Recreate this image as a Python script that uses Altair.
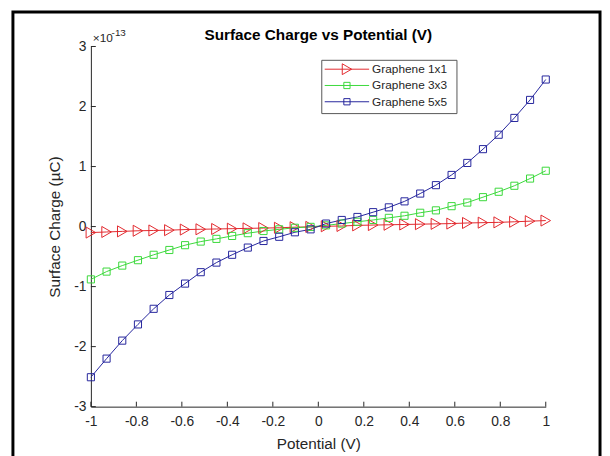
import altair as alt
import pandas as pd

# ---------------- data (values in units of 1e-13) ----------------
potential = [-1.0, -0.931, -0.862, -0.793, -0.724, -0.655, -0.586, -0.517, -0.448, -0.379,
             -0.310, -0.241, -0.172, -0.103, -0.034, 0.034, 0.103, 0.172, 0.241, 0.310,
             0.379, 0.448, 0.517, 0.586, 0.655, 0.724, 0.793, 0.862, 0.931, 1.0]
graphene_1x1 = [-0.10, -0.09, -0.08, -0.07, -0.065, -0.06, -0.05, -0.045, -0.04, -0.035,
                -0.03, -0.025, -0.02, -0.01, -0.005, 0.005, 0.01, 0.02, 0.025, 0.03,
                0.035, 0.04, 0.045, 0.05, 0.06, 0.065, 0.07, 0.08, 0.09, 0.10]
graphene_3x3 = [-0.88, -0.75, -0.65, -0.56, -0.47, -0.39, -0.31, -0.25, -0.205, -0.156,
                -0.11, -0.074, -0.046, -0.02, -0.005, 0.02, 0.05, 0.08, 0.11, 0.145,
                0.18, 0.23, 0.27, 0.34, 0.40, 0.49, 0.58, 0.68, 0.80, 0.93]
graphene_5x5 = [-2.51, -2.20, -1.90, -1.63, -1.37, -1.14, -0.95, -0.76, -0.60, -0.47,
                -0.35, -0.24, -0.17, -0.095, -0.046, 0.05, 0.11, 0.16, 0.24, 0.32,
                0.42, 0.55, 0.69, 0.86, 1.06, 1.29, 1.53, 1.81, 2.11, 2.45]
series_names = ["Graphene 1x1", "Graphene 3x3", "Graphene 5x5"]
series_colors = ["#e2282d", "#3ad83a", "#25259c"]
series_shapes = ["triangle-right", "square", "square"]
x_ticks = [-1, -0.8, -0.6, -0.4, -0.2, 0, 0.2, 0.4, 0.6, 0.8, 1]
y_ticks = [-3, -2, -1, 0, 1, 2, 3]
chart_title = "Surface Charge vs Potential (V)"
x_title = "Potential (V)"
y_title = "Surface Charge (µC)"
exp_base = "×10"
exp_power = "-13"

# ---------------- layout ----------------
W, H = 461, 365
FONT = "Liberation Sans"
AX = "#262626"

rows = []
for name, vals in zip(series_names, [graphene_1x1, graphene_3x3, graphene_5x5]):
    for i, (p, v) in enumerate(zip(potential, vals)):
        rows.append({"series": name, "potential": p, "charge": v, "i": i})
df = pd.DataFrame(rows)

xs = alt.Scale(domain=[-1, 1], nice=False, zero=False)
ys = alt.Scale(domain=[-3, 3], nice=False, zero=False)
cs = alt.Scale(domain=series_names, range=series_colors)

x_axis = alt.Axis(values=x_ticks, labelExpr="toString(datum.value)", ticks=False, tickSize=0,
                  grid=False, domainColor=AX, domainWidth=1, labelColor=AX, labelFont=FONT,
                  labelFontSize=14, labelPadding=8, labelFlush=False, labelOverlap=False,
                  title=x_title, titleFont=FONT, titleFontSize=15.5, titleFontWeight="normal",
                  titleColor=AX, titlePadding=8)
y_axis = alt.Axis(values=y_ticks, labelExpr="toString(datum.value)", ticks=False, tickSize=0,
                  grid=False, domainColor=AX, domainWidth=1, labelColor=AX, labelFont=FONT,
                  labelFontSize=14, labelPadding=5, labelFlush=False, labelOverlap=False,
                  title=y_title, titleFont=FONT, titleFontSize=15.5, titleFontWeight="normal",
                  titleColor=AX, titlePadding=11)

X = alt.X("potential:Q", scale=xs, axis=x_axis)
Y = alt.Y("charge:Q", scale=ys, axis=y_axis)
C = alt.Color("series:N", scale=cs, legend=None)

lines = alt.Chart(df).mark_line(strokeWidth=1).encode(x=X, y=Y, color=C, detail="series:N", order="i:Q")
tri = alt.Chart(df).transform_filter(alt.datum.series == series_names[0]).mark_point(
    shape="triangle-right", filled=False, size=125, strokeWidth=1, opacity=1).encode(x=X, y=Y, color=C)
sq = alt.Chart(df).transform_filter(alt.datum.series != series_names[0]).mark_point(
    shape="square", filled=False, size=52, strokeWidth=1, opacity=1).encode(x=X, y=Y, color=C)

# inward ticks
xt = alt.Chart(pd.DataFrame({"v": x_ticks})).mark_rule(color=AX, strokeWidth=1).encode(
    x=alt.X("v:Q", scale=xs), y=alt.value(H), y2=alt.value(H - 5))
yt = alt.Chart(pd.DataFrame({"v": y_ticks})).mark_rule(color=AX, strokeWidth=1).encode(
    y=alt.Y("v:Q", scale=ys), x=alt.value(0), x2=alt.value(5))

one = pd.DataFrame({"k": [0]})
frame = alt.Chart(one).mark_rect(fill="white", fillOpacity=0, stroke="black", strokeWidth=3).encode(
    x=alt.value(-79), x2=alt.value(516), y=alt.value(-35), y2=alt.value(440))
title = alt.Chart(one).mark_text(text=chart_title, font=FONT, fontSize=15.5, fontWeight="bold",
                                 color="black", align="center", baseline="alphabetic").encode(
    x=alt.value(W / 2), y=alt.value(-7))
e1 = alt.Chart(one).mark_text(text=exp_base, font=FONT, fontSize=12, color=AX, align="left",
                              baseline="alphabetic").encode(x=alt.value(2), y=alt.value(-5))
e2 = alt.Chart(one).mark_text(text=exp_power, font=FONT, fontSize=10, color=AX, align="left",
                              baseline="alphabetic").encode(x=alt.value(21), y=alt.value(-11))

# legend
LX0, LX1, LY0, LY1 = 234, 371, 14, 68
leg_layers = [alt.Chart(one).mark_rect(fill="white", stroke="#555555", strokeWidth=1).encode(
    x=alt.value(LX0), x2=alt.value(LX1), y=alt.value(LY0), y2=alt.value(LY1))]
ldf = pd.DataFrame({"series": series_names})
for j, (name, shp) in enumerate(zip(series_names, series_shapes)):
    yy = 23 + j * 16.5
    d = alt.Chart(ldf).transform_filter(alt.datum.series == name)
    leg_layers.append(d.mark_rule(strokeWidth=1).encode(
        x=alt.value(237), x2=alt.value(282), y=alt.value(yy), color=C))
    leg_layers.append(d.mark_point(shape=shp, filled=False, strokeWidth=1, opacity=1,
                                   size=120 if shp == "triangle-right" else 40).encode(
        x=alt.value(259.5), y=alt.value(yy), color=C))
    leg_layers.append(d.mark_text(font=FONT, fontSize=12, color=AX, align="left",
                                  baseline="middle").encode(
        x=alt.value(285), y=alt.value(yy), text="series:N"))

chart = alt.layer(frame, lines, tri, sq, xt, yt, title, e1, e2, *leg_layers).properties(
    width=W, height=H,
    autosize=alt.AutoSizeParams(type="none"),
    padding={"left": 84, "top": 36, "right": 57, "bottom": 47},
    background="white",
).configure_view(stroke=None)

chart.save("out.html", embed_options={"renderer": "svg", "actions": False})
